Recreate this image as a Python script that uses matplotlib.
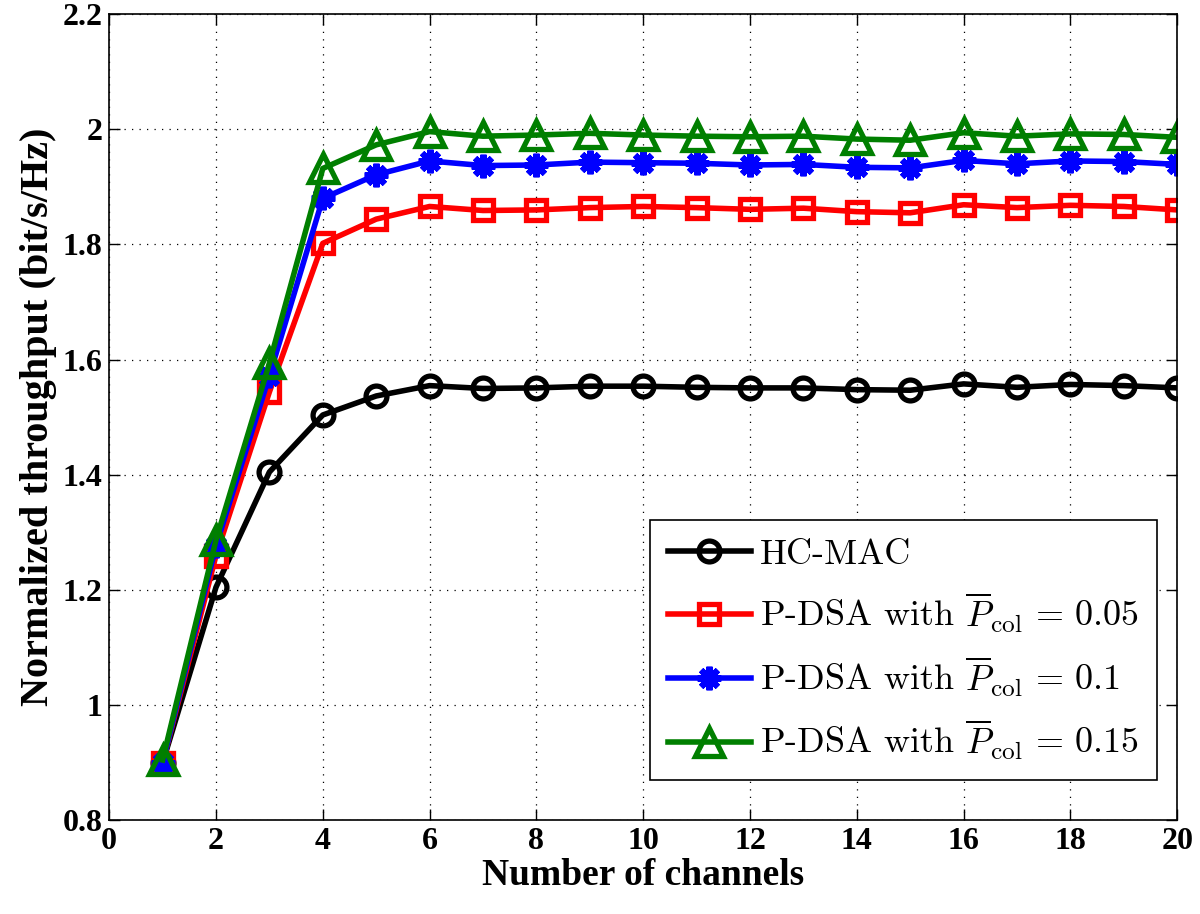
import matplotlib
matplotlib.use("Agg")
import matplotlib.pyplot as plt

channels = list(range(1, 21))
hc_mac = [0.900, 1.205, 1.405, 1.504, 1.537, 1.555, 1.550, 1.551, 1.554, 1.554,
          1.552, 1.551, 1.551, 1.548, 1.547, 1.558, 1.552, 1.557, 1.555, 1.551]
pdsa_005 = [0.900, 1.260, 1.544, 1.802, 1.844, 1.866, 1.859, 1.860, 1.864, 1.866,
            1.864, 1.861, 1.863, 1.857, 1.855, 1.869, 1.864, 1.868, 1.866, 1.860]
pdsa_01 = [0.900, 1.277, 1.572, 1.880, 1.921, 1.945, 1.937, 1.938, 1.943, 1.942,
           1.941, 1.938, 1.939, 1.934, 1.933, 1.946, 1.940, 1.945, 1.944, 1.939]
pdsa_015 = [0.905, 1.287, 1.594, 1.932, 1.973, 1.996, 1.988, 1.990, 1.993, 1.990,
            1.988, 1.987, 1.988, 1.983, 1.981, 1.994, 1.988, 1.992, 1.991, 1.986]

labels = ["HC-MAC",
          r"P-DSA with $\overline{P}_{\mathrm{col}}\,=\,0.05$",
          r"P-DSA with $\overline{P}_{\mathrm{col}}\,=\,0.1$",
          r"P-DSA with $\overline{P}_{\mathrm{col}}\,=\,0.15$"]
xticks = list(range(0, 21, 2))
yticks = [0.8, 1.0, 1.2, 1.4, 1.6, 1.8, 2.0, 2.2]
ytick_labels = ["0.8", "1", "1.2", "1.4", "1.6", "1.8", "2", "2.2"]

plt.rcParams['mathtext.fontset'] = 'cm'

fig = plt.figure(figsize=(12, 9.14), dpi=100)
ax = fig.add_axes([0.091, 0.1023, 0.89, 0.8823])

lw = 4.0
ax.plot(channels, hc_mac, color='black', lw=lw, marker='o', ms=15, mew=3.8,
        mfc='none', label=labels[0])
ax.plot(channels, pdsa_005, color='red', lw=lw, marker='s', ms=14, mew=3.8,
        mfc='none', label=labels[1])
ax.plot(channels, pdsa_01, color='blue', lw=lw, marker=(8, 2, 0), ms=17, mew=4.4,
        label=labels[2])
ax.plot(channels, pdsa_015, color='#007f00', lw=lw, marker='^', ms=20, mew=3.8,
        mfc='none', label=labels[3])

ax.set_xlim(0, 20)
ax.set_ylim(0.8, 2.2)
ax.set_xticks(xticks)
ax.set_yticks(yticks)
ax.set_yticklabels(ytick_labels)

for lab in ax.get_xticklabels() + ax.get_yticklabels():
    lab.set_fontfamily('Liberation Serif')
    lab.set_fontweight('bold')
    lab.set_fontsize(23)

ax.tick_params(direction='in', length=8, width=1, top=True, right=True, pad=5)
ax.grid(True, linestyle=(0, (1, 5)), color='black', lw=0.9)
for s in ax.spines.values():
    s.set_linewidth(1.2)

ax.set_xlabel("Number of channels", fontfamily='Liberation Serif',
              fontweight='bold', fontsize=27, labelpad=1)
ax.set_ylabel("Normalized throughput (bit/s/Hz)", fontfamily='Liberation Serif',
              fontweight='bold', fontsize=29, labelpad=4)

leg = ax.legend(loc='lower right', bbox_to_anchor=(0.981, 0.0496),
                prop={'family': 'cmr10', 'size': 26}, fancybox=False,
                edgecolor='black', framealpha=1, handlelength=2.3,
                labelspacing=0.55, borderpad=0.5, handletextpad=0.25,
                borderaxespad=0)
leg.get_frame().set_linewidth(1.2)

fig.savefig("out.png", dpi=100)
